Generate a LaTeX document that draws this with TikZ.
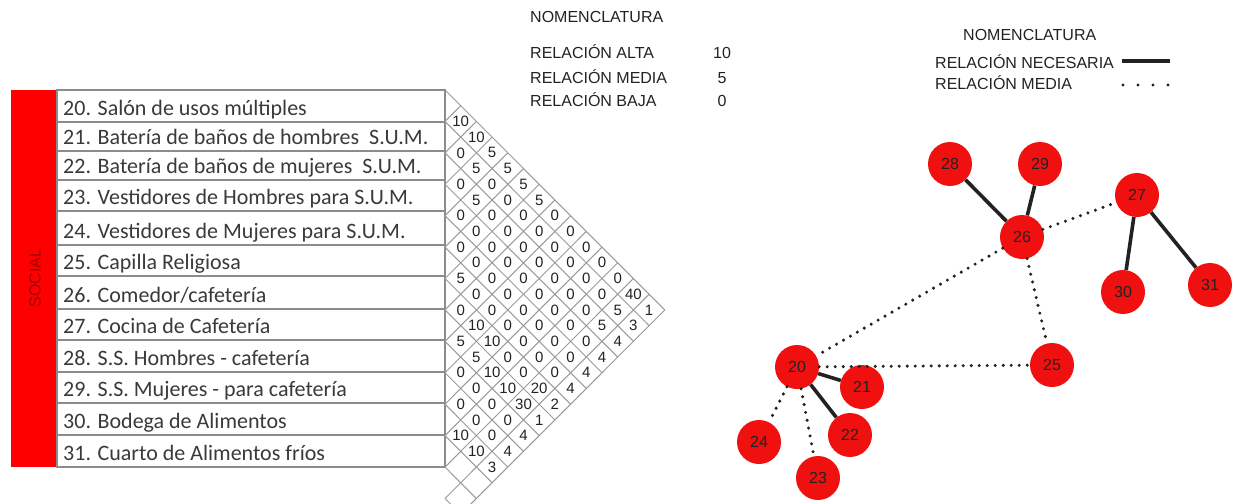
\documentclass[tikz,border=0pt]{standalone}
\usepackage{fontspec}
\setmainfont{Liberation Sans}
\newfontfamily\calibri{Carlito}
\usetikzlibrary{positioning}
\definecolor{SocRed}{HTML}{FF0000}
\definecolor{SocNode}{HTML}{F01010}
\definecolor{SocDark}{HTML}{222222}
\definecolor{SocText}{HTML}{3A3A3A}
\definecolor{SocGrid}{HTML}{9A9A9A}
\definecolor{SocBorder}{HTML}{8C8C8C}
\definecolor{SocLabel}{HTML}{A00000}

\begin{document}
\begin{tikzpicture}[x=1pt,y=-1pt,
  rowbox/.style={draw=SocBorder,line width=1.5pt,fill=white},
  rowtext/.style={anchor=base west,inner sep=0pt,text=SocText,font=\calibri\fontsize{22}{22}\selectfont},
  gridline/.style={draw=SocGrid,line width=1pt},
  cellval/.style={inner sep=0pt,text=SocDark,font=\fontsize{15}{15}\selectfont},
  legtext/.style={anchor=base west,inner sep=0pt,text=SocDark,font=\fontsize{16}{16}\selectfont},
  legval/.style={anchor=base,inner sep=0pt,text=SocDark,font=\fontsize{16}{16}\selectfont},
  room/.style={circle,fill=SocNode,minimum size=44pt,inner sep=0pt,text=SocDark,font=\fontsize{16}{16}\selectfont},
  strongrel/.style={draw=SocDark,line width=3.6pt},
  midrel/.style={draw=SocDark,line width=3.4pt,line cap=round,dash pattern=on 0pt off 8pt}]
\useasboundingbox (0,0) rectangle (1233,503);
\clip (0,0) rectangle (1233,503);

% tabla de espacios
\fill[SocRed] (11,90) rectangle (57,467);
\node[rotate=90,inner sep=0pt,text=SocLabel,font=\fontsize{16}{16}\selectfont] (social) at (35,278) {SOCIAL};
\foreach \top/\bot/\txt [count=\n] in {90/122/{20. Salón de usos múltiples},
    122/151/{21. Batería de baños de hombres~ S.U.M.},
    151/180/{22. Batería de baños de mujeres~ S.U.M.},
    180/211/{23. Vestidores de Hombres para S.U.M.},
    211/245/{24. Vestidores de Mujeres para S.U.M.},
    245/276/{25. Capilla Religiosa},
    276/309/{26. Comedor/cafetería},
    309/340/{27. Cocina de Cafetería},
    340/372/{28. S.S. Hombres - cafetería},
    372/403/{29. S.S. Mujeres - para cafetería},
    403/435/{30. Bodega de Alimentos},
    435/467/{31. Cuarto de Alimentos fríos}} {
  \draw[rowbox] (57,\top) rectangle (445,\bot);
  \node[rowtext] (item\n) at (63,\bot-7) {\txt};
}

% matriz de relaciones
\def\mx{445}
\def\my{90}
\def\mw{15.7}
\def\mh{31.42}
\foreach \m in {0,...,14} {
  \draw[gridline] (\mx,{\my+\m*\mh}) -- ++({(14-\m)*\mw},{(14-\m)*\mh/2});
  \draw[gridline] (\mx,{\my+\m*\mh}) -- ++({\m*\mw},{-\m*\mh/2});
}
\foreach \i/\j/\v in {1/2/10,1/3/10,1/4/5,1/5/5,1/6/5,1/7/5,1/8/0,1/9/0,1/10/0,1/11/0,1/12/0,1/13/40,1/14/1,
    2/3/0,2/4/5,2/5/0,2/6/0,2/7/0,2/8/0,2/9/0,2/10/0,2/11/0,2/12/0,2/13/5,2/14/3,
    3/4/0,3/5/5,3/6/0,3/7/0,3/8/0,3/9/0,3/10/0,3/11/0,3/12/0,3/13/5,3/14/4,
    4/5/0,4/6/0,4/7/0,4/8/0,4/9/0,4/10/0,4/11/0,4/12/0,4/13/0,4/14/4,
    5/6/0,5/7/0,5/8/0,5/9/0,5/10/0,5/11/0,5/12/0,5/13/0,5/14/4,
    6/7/5,6/8/0,6/9/0,6/10/0,6/11/0,6/12/0,6/13/0,6/14/4,
    7/8/0,7/9/10,7/10/10,7/11/0,7/12/0,7/13/20,7/14/2,
    8/9/5,8/10/5,8/11/10,8/12/10,8/13/30,8/14/1,
    9/10/0,9/11/0,9/12/0,9/13/0,9/14/4,
    10/11/0,10/12/0,10/13/0,10/14/4,
    11/12/10,11/13/10,11/14/3} {
  \node[cellval] (c\i-\j) at ({\mx+(\j-\i)*\mw},{\my+(\i+\j-1)*\mh/2}) {\v};
}

% nomenclatura de la matriz
\node[legtext] (nomA) at (530,23) {NOMENCLATURA};
\node[legtext] (altaT) at (530,59) {RELACIÓN ALTA};
\node[legtext] (mediaT) at (530,83) {RELACIÓN MEDIA};
\node[legtext] (bajaT) at (530,106) {RELACIÓN BAJA};
\node[legval] (altaV) at (722,59) {10};
\node[legval] (mediaV) at (722,83) {5};
\node[legval] (bajaV) at (722,106) {0};

% nomenclatura del diagrama
\node[legtext] (nomB) at (963,41) {NOMENCLATURA};
\node[legtext] (necT) at (935,69) {RELACIÓN NECESARIA};
\node[legtext] (medT) at (935,89) {RELACIÓN MEDIA};
\coordinate (necA) at (1122,61);
\coordinate (necB) at (1170,61);
\coordinate (medA) at (1123,85);
\coordinate (medB) at (1169,85);
\draw[strongrel] (necA) -- (necB);
\draw[midrel,dash pattern=on 0pt off 15pt] (medA) -- (medB);

% diagrama de relaciones
\node[room] (r20) at (797,367) {20};
\node[room] (r21) at (862,387) {21};
\node[room] (r22) at (850,435) {22};
\node[room] (r23) at (818,478) {23};
\node[room] (r24) at (759,442) {24};
\node[room] (r25) at (1052,365) {25};
\node[room] (r26) at (1022,237) {26};
\node[room] (r27) at (1137,195) {27};
\node[room] (r28) at (950,164) {28};
\node[room] (r29) at (1040,164) {29};
\node[room] (r30) at (1123,292) {30};
\node[room] (r31) at (1210,285) {31};
\draw[strongrel] (r28) -- (r26);
\draw[strongrel] (r29) -- (r26);
\draw[strongrel] (r27) -- (r30);
\draw[strongrel] (r27) -- (r31);
\draw[strongrel] (r20) -- (r21);
\draw[strongrel] (r20) -- (r22);
\draw[midrel] (r26) -- (r27);
\draw[midrel] (r26) -- (r20);
\draw[midrel] (r26) -- (r25);
\draw[midrel] (r20) -- (r25);
\draw[midrel] (r20) -- (r24);
\draw[midrel] (r20) -- (r23);
\end{tikzpicture}
\end{document}
